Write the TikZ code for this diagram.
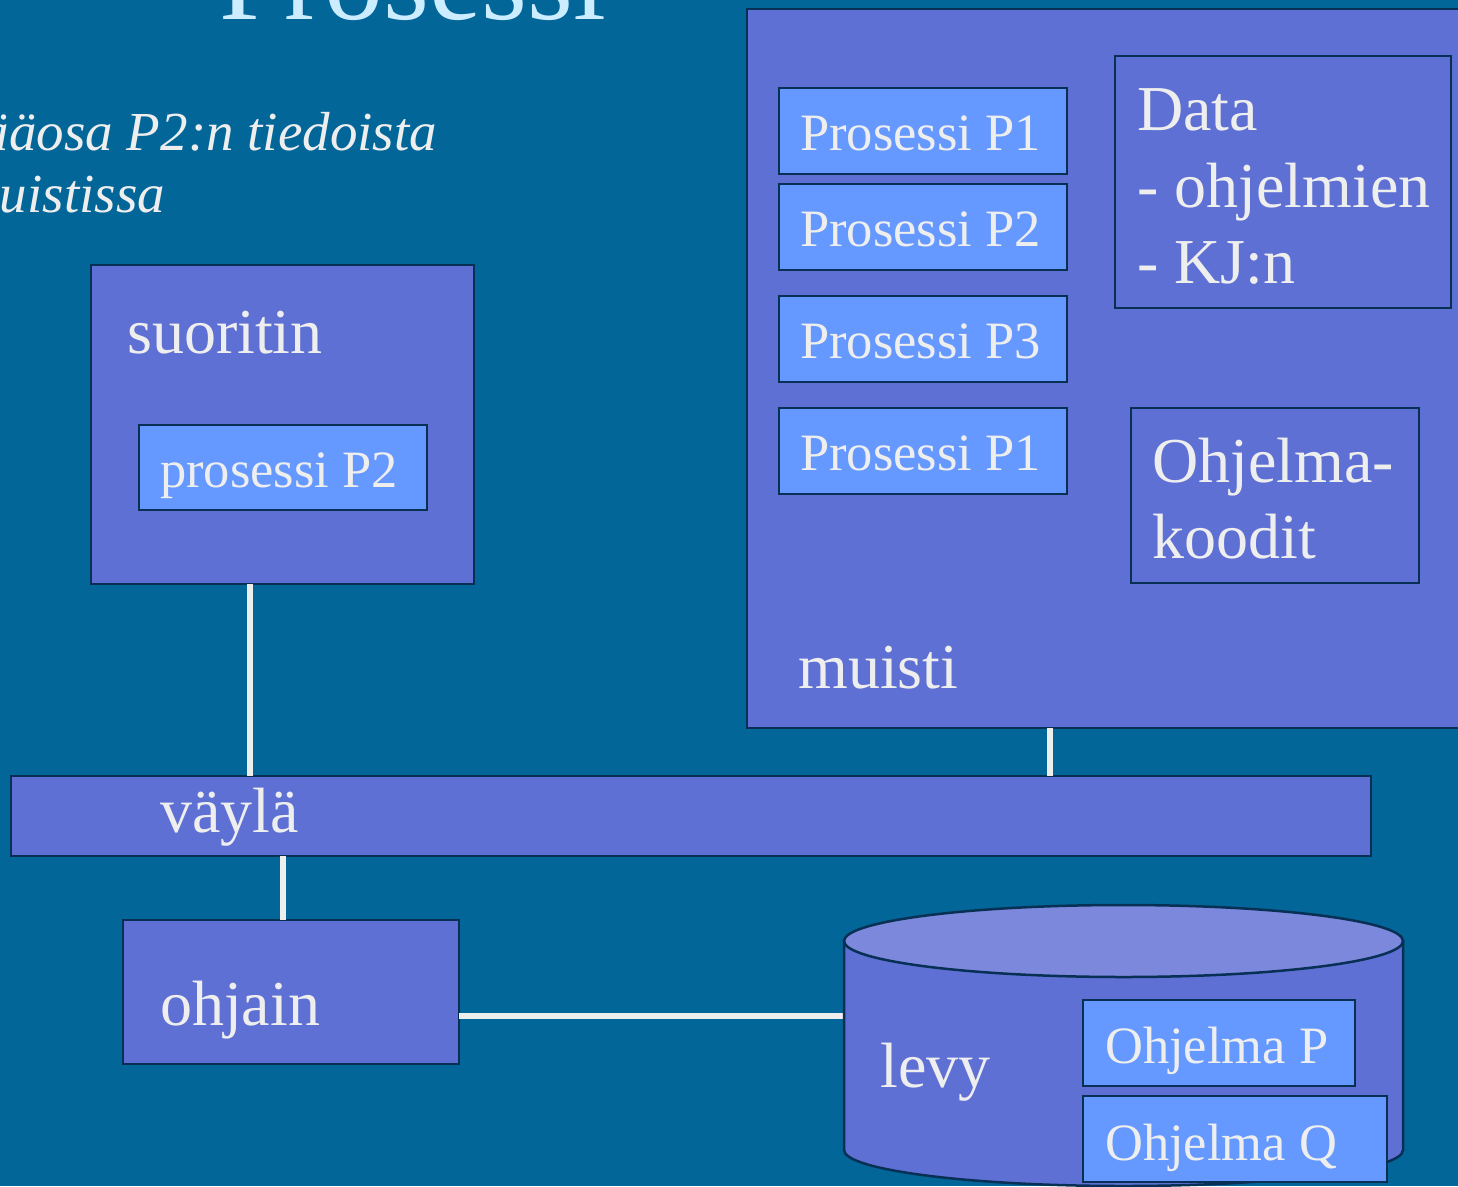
\documentclass[tikz,border=0pt]{standalone}
\usepackage{fontspec}
\setmainfont{Liberation Serif}
\definecolor{slidebg}{RGB}{2,102,153}
\definecolor{unitfill}{RGB}{95,112,213}
\definecolor{procfill}{RGB}{102,153,255}
\definecolor{disktop}{RGB}{123,136,220}
\definecolor{edgeline}{RGB}{8,48,84}
\definecolor{labeltext}{RGB}{238,238,238}
\definecolor{heading}{RGB}{204,236,255}
\tikzset{
  unit/.style={draw=edgeline, line width=2.5pt, fill=unitfill, anchor=north west,
    inner sep=0pt, outer sep=0pt},
  proc/.style={unit, fill=procfill},
  wire/.style={draw=labeltext, line width=6pt},
  biglabel/.style={text=labeltext, font=\fontsize{64}{77}\selectfont, anchor=base west, inner sep=0pt},
  smalllabel/.style={text=labeltext, font=\fontsize{52.5}{62}\selectfont, anchor=base west, inner sep=0pt},
  note/.style={text=labeltext, font=\fontsize{55}{63}\selectfont\itshape, anchor=base west, inner sep=0pt},
}
\begin{document}
\begin{tikzpicture}[x=1pt, y=-1pt]
\useasboundingbox (0,0) rectangle (1458,1186);
\clip (0,0) rectangle (1458,1186);
\fill[slidebg] (0,0) rectangle (1458,1186);

% heading and note
\node[text=heading, font=\fontsize{118}{130}\selectfont, anchor=base west, inner sep=0pt] (title) at (219,19) {Prosessi};
\node[note] (note1) at (-52,150) {Pääosa P2:n tiedoista};
\node[note] (note2) at (-40,212) {muistissa};

% units
\node[unit, minimum width=383, minimum height=319] (cpu) at (91,265) {};
\node[unit, minimum width=730, minimum height=719] (mem) at (747,9) {};
\node[unit, minimum width=1360, minimum height=80] (bus) at (11,776) {};
\node[unit, minimum width=336, minimum height=144] (ctrl) at (123,920) {};

% connectors
\draw[wire] ([xshift=-32.5pt]cpu.south) -- ([xshift=-32.5pt]cpu.south |- bus.north);
\draw[wire] ([xshift=303pt]mem.south west) -- ([xshift=303pt]mem.south west |- bus.north);
\draw[wire] (bus.south -| 283,0) -- (ctrl.north -| 283,0);
\coordinate (diskL) at (844,1016);
\draw[wire] (diskL -| ctrl.east) -- (diskL);

% disk
\filldraw[draw=edgeline, line width=2.5pt, fill=unitfill]
  (844,941) -- (844,1150) arc[start angle=180, end angle=360, x radius=279.5pt, y radius=36pt]
  -- (1403,941) -- cycle;
\filldraw[draw=edgeline, line width=2.5pt, fill=disktop] (1123.5,941) ellipse [x radius=279.5pt, y radius=36pt];

% contents of the processor
\node[biglabel] (cpulbl) at (127,353) {suoritin};
\node[proc, minimum width=288, minimum height=85] (cpuP2) at (139,425) {};
\node[smalllabel] at (160,487) {prosessi P2};

% contents of the memory
\node[proc, minimum width=288, minimum height=86] (m1) at (779,88) {};
\node[proc, minimum width=288, minimum height=86] (m2) at (779,184) {};
\node[proc, minimum width=288, minimum height=86] (m3) at (779,296) {};
\node[proc, minimum width=288, minimum height=86] (m4) at (779,408) {};
\node[smalllabel] at (800,150) {Prosessi P1};
\node[smalllabel] at (800,246) {Prosessi P2};
\node[smalllabel] at (800,358) {Prosessi P3};
\node[smalllabel] at (800,470) {Prosessi P1};
\node[unit, minimum width=336, minimum height=252] (data) at (1115,56) {};
\node[biglabel] at (1137,130) {Data};
\node[biglabel] at (1137,207) {- ohjelmien};
\node[biglabel] at (1137,283) {- KJ:n};
\node[unit, minimum width=288, minimum height=175] (code) at (1131,408) {};
\node[biglabel] at (1152,482) {Ohjelma-};
\node[biglabel] at (1152,558) {koodit};
\node[biglabel] at (798,688) {muisti};

% bus, controller, disk labels
\node[biglabel] at (160,832) {väylä};
\node[biglabel] at (160,1025) {ohjain};
\node[biglabel] at (880,1087) {levy};
\node[proc, minimum width=272, minimum height=86] (progP) at (1083,1000) {};
\node[proc, minimum width=304, minimum height=86] (progQ) at (1083,1096) {};
\node[smalllabel] at (1105,1063) {Ohjelma P};
\node[smalllabel] at (1105,1160) {Ohjelma Q};
\end{tikzpicture}
\end{document}
